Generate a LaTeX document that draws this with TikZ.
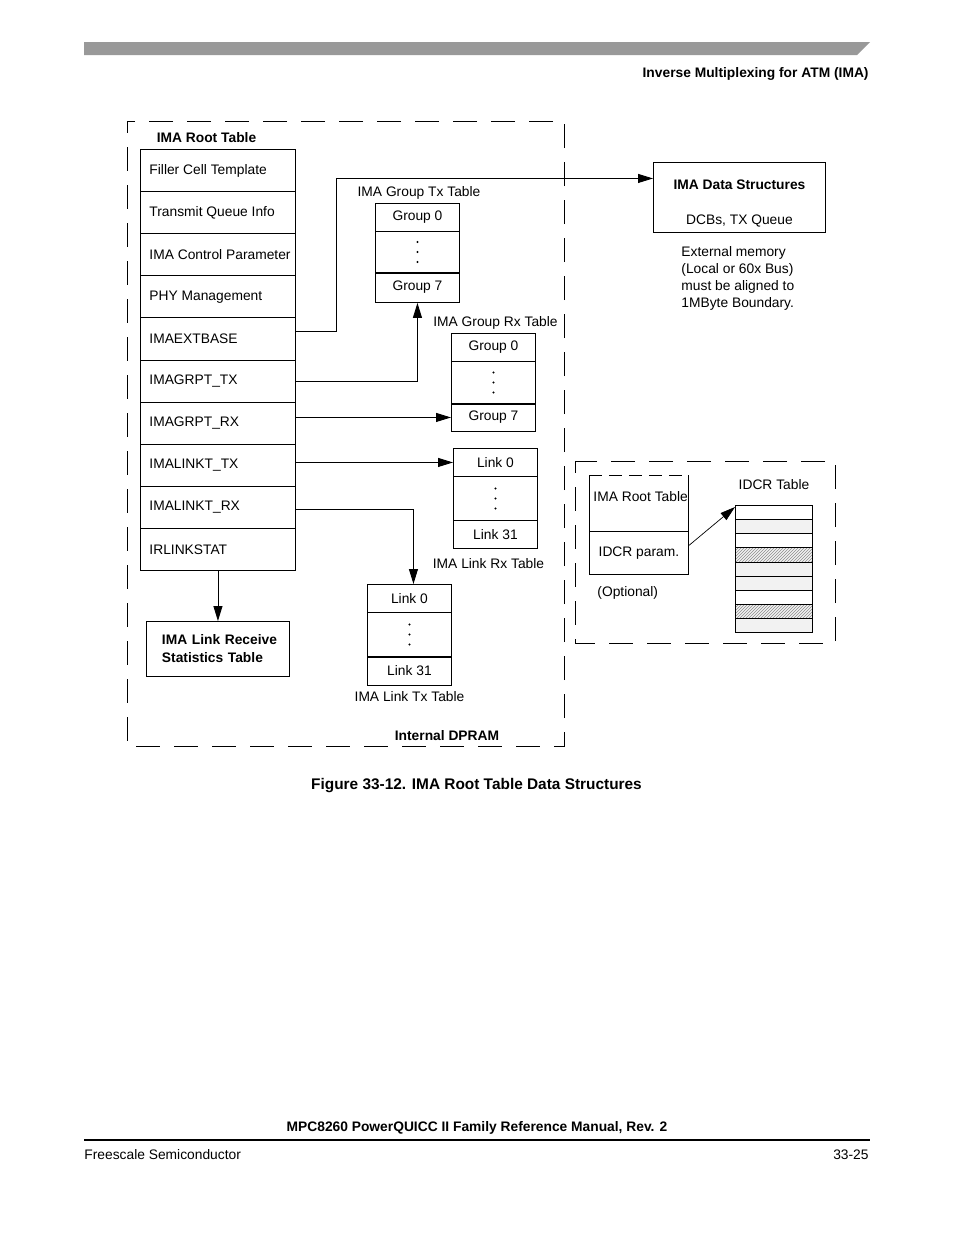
\documentclass[tikz,border=0pt]{standalone}
\usepackage{fontspec}
\setmainfont{Liberation Sans}
\usetikzlibrary{arrows.meta, patterns}

% three dots in the middle row of a table
\newcommand{\tabledots}[1]{%
  \foreach \d in {-10,0,10} \fill ([yshift=\d pt]#1.center) circle (1.1pt);}
% left aligned text of a root table row
\newcommand{\rowtext}[1]{\makebox[137pt][l]{#1}}

\begin{document}
\begin{tikzpicture}[x=1pt, y=-1pt, >={Triangle[length=15pt,width=9pt]}, line width=0.9pt]
  % Styles
  \tikzset{
    every node/.style={font=\fontsize{13.8}{16.5}\selectfont},
    txt/.style={inner sep=0pt},
    boldtxt/.style={inner sep=0pt, font=\fontsize{13.8}{16.5}\selectfont\bfseries},
    rootcell/.style={draw, anchor=north west, minimum width=155pt, minimum height=42.1pt,
      inner xsep=9pt, inner ysep=0pt},
    entry/.style={draw, anchor=north west, minimum width=84pt, inner sep=0pt},
    idcrrow/.style={draw, line width=0.8pt, anchor=north west, minimum width=77pt,
      minimum height=14.15pt, inner sep=0pt},
    plain/.style={},
    shaded/.style={fill=black!5},
    hatched/.style={preaction={fill=black!5}, pattern=north east lines, pattern color=black!45},
    region/.style={dash pattern=on 24pt off 14pt, dash phase=12pt},
  }
  \useasboundingbox (0,0) rectangle (954,1235);

  % Page header and footer
  \fill[black!40] (84,42) -- (870,42) -- (857,55) -- (84,55) -- cycle;
  \node[boldtxt, anchor=east] (header) at (869,74) {Inverse Multiplexing for ATM (IMA)};
  \node[boldtxt] (manual) at (477,1128) {MPC8260 PowerQUICC II Family Reference Manual, Rev. 2};
  \draw[line width=1.3pt] (84,1140) -- (870,1140);
  \node[txt, anchor=west] (company) at (84,1155) {Freescale Semiconductor};
  \node[txt, anchor=east] (pagenum) at (869,1155) {33-25};

  % Internal DPRAM region
  \draw[region] (127,121) rectangle (564,746);
  \node[boldtxt] (dpramlbl) at (447,736) {Internal DPRAM};

  % IMA root table
  \node[boldtxt] (roottitle) at (206.5,138) {IMA Root Table};
  \node[rootcell] (root1) at (140,149) {\rowtext{Filler Cell Template}};
  \node[rootcell] (root2) at (140,191.1) {\rowtext{Transmit Queue Info}};
  \node[rootcell] (root3) at (140,233.2) {\rowtext{IMA Control Parameter}};
  \node[rootcell] (root4) at (140,275.3) {\rowtext{PHY Management}};
  \node[rootcell] (root5) at (140,317.4) {\rowtext{IMAEXTBASE}};
  \node[rootcell] (root6) at (140,359.5) {\rowtext{IMAGRPT\_TX}};
  \node[rootcell] (root7) at (140,401.6) {\rowtext{IMAGRPT\_RX}};
  \node[rootcell] (root8) at (140,443.7) {\rowtext{IMALINKT\_TX}};
  \node[rootcell] (root9) at (140,485.8) {\rowtext{IMALINKT\_RX}};
  \node[rootcell] (root10) at (140,527.9) {\rowtext{IRLINKSTAT}};

  \node[draw, anchor=north west, minimum width=143pt, minimum height=55pt, text width=120pt,
    inner sep=0pt, align=left, font=\fontsize{13.8}{18}\selectfont\bfseries] (statbox)
    at (146,621) {\hspace*{4pt}IMA Link Receive\\\hspace*{4pt}Statistics Table};

  % Group Tx table
  \node[txt] (grptxlbl) at (419,193) {IMA Group Tx Table};
  \node[entry, minimum height=28pt] (grptx0) at (375,203) {Group 0};
  \node[entry, minimum height=41pt] (grptxd) at (375,231) {};
  \node[entry, minimum height=30pt] (grptx7) at (375,272) {Group 7};
  \draw[line width=2pt] (grptxd.south west) -- (grptxd.south east);
  \tabledots{grptxd}

  % Group Rx table
  \node[txt] (grprxlbl) at (495.5,323) {IMA Group Rx Table};
  \node[entry, minimum height=28pt] (grprx0) at (451,333) {Group 0};
  \node[entry, minimum height=42pt] (grprxd) at (451,361) {};
  \node[entry, minimum height=28pt] (grprx7) at (451,403) {Group 7};
  \draw[line width=2pt] (grprxd.south west) -- (grprxd.south east);
  \tabledots{grprxd}

  % Link Rx table
  \node[entry, minimum height=28pt] (lnkrx0) at (453,448) {Link 0};
  \node[entry, minimum height=44pt] (lnkrxd) at (453,476) {};
  \node[entry, minimum height=28pt] (lnkrx31) at (453,520) {Link 31};
  \tabledots{lnkrxd}
  \node[txt] (lnkrxlbl) at (488.5,564) {IMA Link Rx Table};

  % Link Tx table
  \node[entry, minimum height=28pt] (lnktx0) at (367,584) {Link 0};
  \node[entry, minimum height=44pt] (lnktxd) at (367,612) {};
  \node[entry, minimum height=29pt] (lnktx31) at (367,656) {Link 31};
  \draw[line width=2pt] (lnktxd.south west) -- (lnktxd.south east);
  \tabledots{lnktxd}
  \node[txt] (lnktxlbl) at (409.5,697) {IMA Link Tx Table};

  % External memory
  \node[draw, anchor=north west, minimum width=172pt, minimum height=70pt, align=center]
    (datastruct) at (653,162) {\rule{0pt}{22pt}\textbf{IMA Data Structures}\\[18.5pt]DCBs, TX Queue};
  \node[txt, anchor=north west, align=left, font=\fontsize{13.8}{17}\selectfont] (extnote)
    at (681,246) {External memory\\(Local or 60x Bus)\\must be aligned to\\1MByte Boundary.};

  % Optional IDCR region
  \draw[region] (575,461) rectangle (835,643);
  \node[anchor=north west, minimum width=99pt, minimum height=56pt, inner sep=0pt] (oroot) at (589,475) {};
  \draw (oroot.north west) -- (oroot.south west) -- (oroot.south east) -- (oroot.north east);
  \draw[dash pattern=on 13pt off 7pt] (oroot.north west) -- (oroot.north east);
  \node[txt, anchor=west] (oroottxt) at (593,497) {IMA Root Table};
  \node[entry, minimum width=99pt, minimum height=43pt] (idcrparam) at (589,531) {IDCR param.};
  \node[txt, anchor=west] (optlbl) at (597,593) {(Optional)};
  \node[txt] (idcrlbl) at (774,485) {IDCR Table};
  \foreach \i/\sty in {1/plain, 2/shaded, 3/plain, 4/hatched, 5/shaded, 6/shaded, 7/plain, 8/hatched, 9/shaded}
    \node[idcrrow, \sty] (idcr\i) at (735,{505+14.15*(\i-1)}) {};

  % Arrows
  \draw[->] ([yshift=7pt]root5.east) -- ++(41,0) |- ([yshift=19pt]datastruct.west);
  \draw[->] (root6.east) -| (grptx7.south);
  \draw[->] (root7.east |- grprx7.west) -- (grprx7.west);
  \draw[->] (root8.east |- lnkrx0.west) -- (lnkrx0.west);
  \draw[->] ([yshift=-2pt]root9.east) -| ([xshift=4pt]lnktx0.north);
  \draw[->] (root10.south) -- (statbox.north);
  \draw[->, line width=0.7pt] ([yshift=7.5pt]idcrparam.east) -- ([yshift=-2pt]idcr1.north west);

  % Caption
  \node[txt, font=\fontsize{15.4}{18}\selectfont\bfseries] (caption) at (476.5,786)
    {Figure 33-12. IMA Root Table Data Structures};
\end{tikzpicture}
\end{document}
